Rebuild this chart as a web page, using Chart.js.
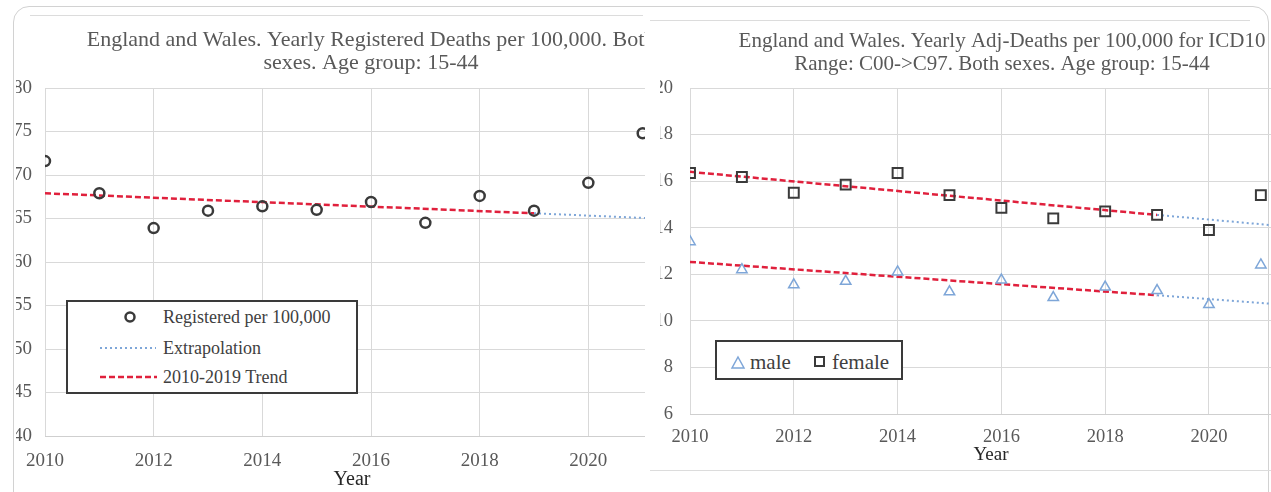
<!DOCTYPE html>
<html>
<head>
<meta charset="utf-8">
<script src="https://cdn.jsdelivr.net/npm/chart.js@4.4.1/dist/chart.umd.min.js"></script>
<style>
  body { margin: 0; background: #fff; width: 1271px; height: 492px; overflow: hidden; position: relative; font-family: "Liberation Serif", serif; }
  #frame { position: absolute; left: 13px; top: 6px; width: 1254px; height: 540px; border: 1.5px solid #d2d2d2; border-radius: 16px; }
  .clip { position: absolute; overflow: hidden; }
  .clip canvas { position: absolute; }
  #leftClip { left: 16px; top: 15px; width: 629px; height: 477px; }
  #rightClip { left: 648px; top: 20px; width: 623px; height: 450px; }
  .rule { position: absolute; height: 1px; background: #dcdcdc; }
  svg.legend { position: absolute; overflow: visible; }
  svg.legend text { font-family: "Liberation Serif", serif; fill: #404040; }
</style>
</head>
<body>
<div id="frame"></div>
<div class="rule" style="left:30px; top:15px; width:613px;"></div>
<div class="rule" style="left:650px; top:20px; width:600px;"></div>
<div class="rule" style="left:650px; top:470px; width:621px;"></div>

<div class="clip" id="leftClip">
  <canvas id="deathsChart" width="732" height="492" style="left:-11px; top:-15px;"></canvas>
</div>
<div class="clip" id="rightClip">
  <canvas id="cancerChart" width="704" height="470" style="left:2px; top:-20px;"></canvas>
</div>

<!-- legend boxes drawn over the plot areas -->
<svg class="legend" style="left:67px; top:301px;" width="290" height="92">
  <rect x="0" y="0" width="290" height="92" fill="#fff" stroke="#3a3a3a" stroke-width="2"/>
  <circle cx="63" cy="16" r="4.5" fill="none" stroke="#3a3a3a" stroke-width="2.5"/>
  <text x="96" y="22" font-size="18">Registered per 100,000</text>
  <line x1="33" y1="47" x2="89" y2="47" stroke="#7ea6d8" stroke-width="2" stroke-dasharray="2,3"/>
  <text x="96" y="53" font-size="18">Extrapolation</text>
  <line x1="33" y1="76" x2="90" y2="76" stroke="#e0203c" stroke-width="2.5" stroke-dasharray="6,3"/>
  <text x="96" y="82" font-size="18">2010-2019 Trend</text>
</svg>
<svg class="legend" style="left:716px; top:341px;" width="186" height="38">
  <rect x="0" y="0" width="186" height="38" fill="#fff" stroke="#3a3a3a" stroke-width="2"/>
  <polygon points="22,16 28,27 16,27" fill="none" stroke="#7ea6d8" stroke-width="1.5"/>
  <text x="34" y="28" font-size="21">male</text>
  <rect x="99" y="16" width="9" height="9" fill="none" stroke="#3a3a3a" stroke-width="2"/>
  <text x="116" y="28" font-size="21">female</text>
</svg>

<script>
// years and values
const years = [2010, 2011, 2012, 2013, 2014, 2015, 2016, 2017, 2018, 2019, 2020, 2021];
const registered = [71.6, 67.9, 63.9, 65.9, 66.4, 66.0, 66.9, 64.5, 67.6, 65.9, 69.1, 74.8];
const regTrendYears = [2010, 2019];
const regTrend = [67.9, 65.6];
const regExtrapYears = [2019, 2022];
const regExtrap = [65.6, 64.8];

const female = [16.35, 16.18, 15.5, 15.85, 16.35, 15.4, 14.85, 14.4, 14.7, 14.55, 13.9, 15.4];
const male = [13.4, 12.2, 11.55, 11.7, 12.1, 11.25, 11.75, 11.0, 11.45, 11.3, 10.7, 12.4];
const femaleTrend = [16.4, 14.55];
const femaleExtrap = [14.55, 13.95];
const maleTrend = [12.53, 11.1];
const maleExtrap = [11.1, 10.6];

const leftTitle = ['England and Wales. Yearly Registered Deaths per 100,000. Both', 'sexes. Age group: 15-44'];
const rightTitle = ['England and Wales. Yearly Adj-Deaths per 100,000 for ICD10', 'Range: C00->C97. Both sexes. Age group: 15-44'];

const serif = '"Liberation Serif", "Times New Roman", serif';
const gridGray = '#d9d9d9';
const textGray = '#595959';
const red = '#e0203c';
const blue = '#7ea6d8';

function pts(xs, ys) {
    return xs.map(function(x, i) { return { x: x, y: ys[i] }; });
}

function trendSet(xs, ys) {
    return { type: 'line', data: pts(xs, ys), showLine: true, borderColor: red, borderWidth: 2.5,
             borderDash: [6, 3], pointRadius: 0, fill: false };
}

function extrapSet(xs, ys) {
    return { type: 'line', data: pts(xs, ys), showLine: true, borderColor: blue, borderWidth: 2,
             borderDash: [2, 3], pointRadius: 0, fill: false };
}

function axes(o) {
    return {
        x: {
            type: 'linear', min: 2010, max: o.xMax,
            grid: { color: gridGray, drawTicks: false },
            border: { color: '#cfcfcf' },
            ticks: { stepSize: 2, includeBounds: false, padding: o.xPad, color: textGray,
                     font: { family: serif, size: o.tickSize }, callback: function(v) { return String(v); } },
            title: { display: true, text: 'Year', color: '#262626', padding: { top: 0, bottom: o.yearPad },
                     font: { family: serif, size: o.yearSize, lineHeight: 1.2 } },
            afterFit: function(s) { s.height = o.xHeight; }
        },
        y: {
            min: o.yMin, max: o.yMax,
            grid: { color: gridGray, drawTicks: false },
            border: { display: false },
            ticks: { stepSize: o.yStep, padding: o.yPad, color: textGray, font: { family: serif, size: o.tickSize } },
            afterFit: function(s) { s.width = 30; }
        },
        // empty right axis, only to leave room right of the plot without moving the title
        spacer: {
            type: 'linear', position: 'right', min: 0, max: 1,
            grid: { display: false }, border: { display: false }, ticks: { display: false },
            afterFit: function(s) { s.width = o.rightRoom; }
        }
    };
}

function titleOpts(text, size, top, bottom) {
    return { display: true, text: text, color: textGray, padding: { top: top, bottom: bottom },
             font: { family: serif, size: size, weight: 'normal', lineHeight: '23px' } };
}

// left: registered deaths
new Chart(document.getElementById('deathsChart'), {
    type: 'scatter',
    data: {
        datasets: [
            { data: pts(years, registered), pointStyle: 'circle', pointRadius: 5, borderWidth: 2.5,
              borderColor: '#3a3a3a', backgroundColor: 'rgba(0,0,0,0)', showLine: false },
            extrapSet(regExtrapYears, regExtrap),
            trendSet(regTrendYears, regTrend)
        ]
    },
    options: {
        responsive: false, animation: false,
        layout: { padding: { left: 10, right: 10, top: 0, bottom: 0 } },
        plugins: { legend: { display: false }, tooltip: { enabled: false },
                   title: titleOpts(leftTitle, 22, 28.5, 13.5) },
        scales: axes({ xMax: 2021.3, xPad: 14, tickSize: 19, yearSize: 20, yearPad: 0, xHeight: 56,
                       yMin: 40, yMax: 80, yStep: 5, yPad: 13, rightRoom: 68 })
    }
});

// right: cancer deaths by sex
new Chart(document.getElementById('cancerChart'), {
    type: 'scatter',
    data: {
        datasets: [
            { data: pts(years, male), pointStyle: 'triangle', pointRadius: 6, borderWidth: 1.5,
              borderColor: blue, backgroundColor: 'rgba(0,0,0,0)', showLine: false },
            { data: pts(years, female), pointStyle: 'rect', pointRadius: 7, borderWidth: 2,
              borderColor: '#3a3a3a', backgroundColor: 'rgba(0,0,0,0)', showLine: false },
            extrapSet(regExtrapYears, femaleExtrap),
            extrapSet(regExtrapYears, maleExtrap),
            trendSet(regTrendYears, femaleTrend),
            trendSet(regTrendYears, maleTrend)
        ]
    },
    options: {
        responsive: false, animation: false,
        layout: { padding: { left: 10, right: 10, top: 0, bottom: 0 } },
        plugins: { legend: { display: false }, tooltip: { enabled: false },
                   title: titleOpts(rightTitle, 21, 29.5, 12.5) },
        scales: axes({ xMax: 2021.6, xPad: 12, tickSize: 18.5, yearSize: 19, yearPad: 3.5, xHeight: 56,
                       yMin: 6, yMax: 20, yStep: 2, yPad: 17, rightRoom: 52 })
    }
});
</script>
</body>
</html>
